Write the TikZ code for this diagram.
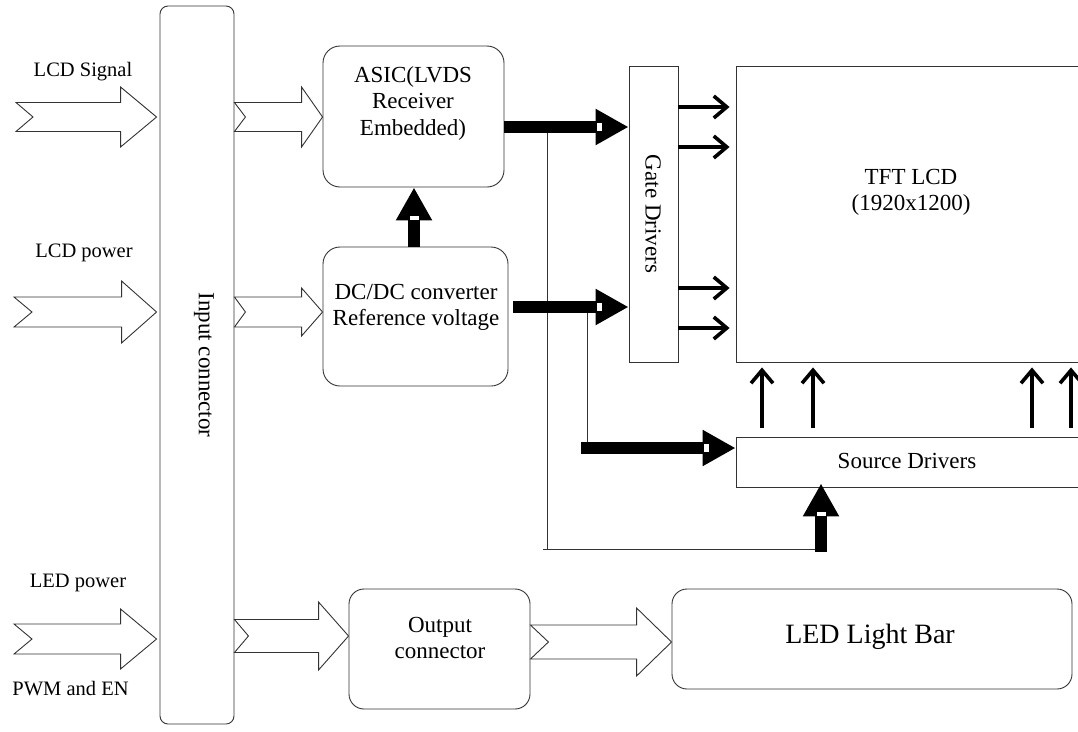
\documentclass[tikz,border=0pt]{standalone}
\usepackage{fontspec}
\setmainfont{Liberation Serif}
\usetikzlibrary{arrows.meta,calc}

% hollow block arrow with a notched tail:
% #1 tail point, #2 tip point, #3 shaft half height, #4 head half height,
% #5 head length, #6 notch depth
\newcommand\hollowarr[6]{%
  \draw[hollow] let \p1=(#1), \p2=(#2) in
    ({\x1},{\y1+#3pt}) -- ({\x2-#5pt},{\y1+#3pt}) -- ({\x2-#5pt},{\y1+#4pt})
    -- ({\x2},{\y1}) -- ({\x2-#5pt},{\y1-#4pt}) -- ({\x2-#5pt},{\y1-#3pt})
    -- ({\x1},{\y1-#3pt}) -- ({\x1+#6pt},{\y1}) -- cycle;}
% small light slot at the base of a bus arrow head
\newcommand\hmark[1]{\fill[white] ($(#1)+(-32,-4)$) rectangle ($(#1)+(-27,4)$);}
\newcommand\vmark[1]{\fill[white] ($(#1)+(-4.5,29)$) rectangle ($(#1)+(4.5,33)$);}

\begin{document}
\begin{tikzpicture}[x=1pt,y=-1pt,
  box/.style={draw=black!80, line width=0.9pt, inner sep=0pt},
  rbox/.style={box, rounded corners=#1},
  txt/.style={font=\fontsize{23}{26.5}\selectfont, align=center, inner sep=0pt},
  lbl/.style={font=\fontsize{20.5}{24}\selectfont, inner sep=0pt, anchor=base},
  hollow/.style={draw=black!80, line width=0.9pt, fill=white, line join=miter},
  bus/.style={line width=12.5pt, -{Triangle[length=33pt,width=34pt]}},
  wire/.style={draw=black!80, line width=0.9pt},
  feed/.style={line width=3.6pt, -{Straight Barb[length=13pt,width=22pt]}}
]
\useasboundingbox (0,0) rectangle (1078,731);

% ---------- blocks ----------
\node[rbox=8pt,  minimum width=74pt,  minimum height=718pt] (inconn) at (197,365) {};
\node[rbox=17pt, minimum width=181pt, minimum height=141pt] (asic)   at (413.5,116.5) {};
\node[rbox=17pt, minimum width=185pt, minimum height=139pt] (dcdc)   at (415.5,316.5) {};
\node[box,       minimum width=49pt,  minimum height=296pt] (gate)   at (653.5,214) {};
\node[box,       minimum width=344pt, minimum height=296pt] (tft)    at (908,214) {};
\node[box,       minimum width=344pt, minimum height=50pt]  (src)    at (908,462) {};
\node[rbox=15pt, minimum width=181pt, minimum height=120pt] (outc)   at (439.5,649) {};
\node[rbox=15pt, minimum width=400pt, minimum height=100pt] (bar)    at (872,639) {};

% ---------- block texts ----------
\node[txt, rotate=-90] (inconnT) at (204,365) {Input connector};
\node[txt] (asicT) at (413,103) {ASIC(LVDS\\Receiver\\Embedded)};
\node[txt] (dcdcT) at (416,307.5) {DC/DC converter\\Reference voltage};
\node[txt, rotate=-90] (gateT) at (653,214) {Gate Drivers};
\node[txt] (tftT) at (911,192.5) {TFT LCD\\(1920x1200)};
\node[txt, anchor=base] (srcT) at (907,468) {Source Drivers};
\node[txt] (outcT) at (440,638) {Output\\connector};
\node[txt, anchor=base, font=\fontsize{28}{32}\selectfont] (barT) at (870,643) {LED Light Bar};

% ---------- input labels ----------
\node[lbl] (lSig) at (83,76)  {LCD Signal};
\node[lbl] (lPwr) at (84,257) {LCD power};
\node[lbl] (lLed) at (78,587) {LED power};
\node[lbl] (lPwm) at (70.5,695) {PWM and EN};

% ---------- hollow signal arrows ----------
\coordinate (sigL) at (16,117);
\coordinate (pwrL) at (14,312);
\coordinate (ledL) at (14,639);
\coordinate (ledI) at (0,636);
\coordinate (barI) at (0,642);
\hollowarr{sigL}{$(inconn.west |- sigL)+(-3,0)$}{14.5}{30}{36}{17}
\hollowarr{pwrL}{$(inconn.west |- pwrL)+(-3,0)$}{15}{31}{35}{18}
\hollowarr{ledL}{$(inconn.west |- ledL)+(-3,0)$}{15}{30}{36}{18}
\hollowarr{inconn.east |- sigL}{asic.west |- sigL}{14.5}{30}{21}{11}
\hollowarr{inconn.east |- pwrL}{dcdc.west |- pwrL}{15}{24}{21}{11}
\hollowarr{inconn.east |- ledI}{outc.west |- ledI}{16.5}{34}{30}{14}
\hollowarr{outc.east |- barI}{bar.west |- barI}{17}{34}{35}{18}

% ---------- thin distribution wires ----------
\coordinate (yA) at (0,127);
\coordinate (yB) at (0,307);
\coordinate (tapA) at (547,127);
\coordinate (cornerA) at (547,549);
\coordinate (tapB) at (587,307);
\coordinate (srcin) at (581,448);
\coordinate (feedS) at (821,552);
\draw[wire] (tapA) -- (cornerA) -- (feedS |- cornerA);
\draw[wire] (cornerA) -- ++(-4,0);
\draw[wire] (tapB) -- (tapB |- srcin);

% ---------- bus arrows ----------
\draw[bus] (asic.east |- yA) -- (gate.west |- yA);
\hmark{gate.west |- yA}
\draw[bus] ($(dcdc.east |- yB)+(5,0)$) -- (gate.west |- yB);
\hmark{gate.west |- yB}
\coordinate (xU) at (414,0);
\draw[bus] (dcdc.north -| xU) -- (asic.south -| xU);
\vmark{asic.south -| xU}
\draw[bus] (srcin) -- (src.west |- srcin);
\hmark{src.west |- srcin}
\draw[bus] (feedS) -- ($(src.south -| feedS)+(0,-4)$);
\vmark{$(src.south -| feedS)+(0,-4)$}

% ---------- driver outputs into the panel ----------
\foreach \yy in {107,147,288,328} {
  \coordinate (g) at (0,\yy);
  \draw[feed, shorten >=6pt] (gate.east |- g) -- (tft.west |- g);
}
\foreach \xx in {762,813,1032,1071} {
  \coordinate (s) at (\xx,0);
  \draw[feed, shorten <=9pt, shorten >=5pt] (src.north -| s) -- (tft.south -| s);
}
\end{tikzpicture}
\end{document}
